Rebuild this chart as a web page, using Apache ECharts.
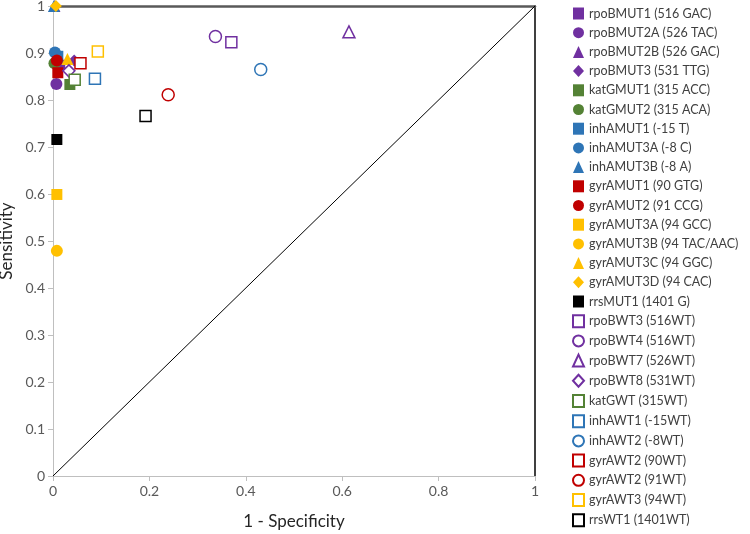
<!DOCTYPE html>
<html>
<head>
<meta charset="utf-8">
<script src="https://cdn.jsdelivr.net/npm/echarts@6/dist/echarts.min.js"></script>
<style>
  html, body { margin: 0; padding: 0; background: #fff; }
  #roc { width: 750px; height: 534px; }
</style>
</head>
<body>
<div id="roc"></div>
<script>
/*---------- data: one point per assay (x = 1 - specificity, y = sensitivity) ----------*/
var labels = [
    'rpoBMUT1 (516 GAC)', 'rpoBMUT2A (526 TAC)', 'rpoBMUT2B (526 GAC)', 'rpoBMUT3 (531 TTG)',
    'katGMUT1 (315 ACC)', 'katGMUT2 (315 ACA)',
    'inhAMUT1 (-15 T)', 'inhAMUT3A (-8 C)', 'inhAMUT3B (-8 A)',
    'gyrAMUT1 (90 GTG)', 'gyrAMUT2 (91 CCG)', 'gyrAMUT3A (94 GCC)', 'gyrAMUT3B (94 TAC/AAC)',
    'gyrAMUT3C (94 GGC)', 'gyrAMUT3D (94 CAC)',
    'rrsMUT1 (1401 G)',
    'rpoBWT3 (516WT)', 'rpoBWT4 (516WT)', 'rpoBWT7 (526WT)', 'rpoBWT8 (531WT)',
    'katGWT (315WT)', 'inhAWT1 (-15WT)', 'inhAWT2 (-8WT)',
    'gyrAWT2 (90WT)', 'gyrAWT2 (91WT)', 'gyrAWT3 (94WT)', 'rrsWT1 (1401WT)'
];
var oneMinusSpec = [
    0.014, 0.007, 0.003, 0.044,
    0.035, 0.003,
    0.010, 0.004, 0.002,
    0.010, 0.008, 0.008, 0.008,
    0.030, 0.006,
    0.008,
    0.370, 0.337, 0.614, 0.033,
    0.045, 0.087, 0.431,
    0.057, 0.239, 0.093, 0.192
];
var sensitivity = [
    0.874, 0.834, 1.000, 0.884,
    0.833, 0.878,
    0.893, 0.901, 1.000,
    0.858, 0.884, 0.599, 0.479,
    0.887, 1.000,
    0.716,
    0.923, 0.935, 0.945, 0.862,
    0.843, 0.845, 0.865,
    0.878, 0.811, 0.903, 0.766
];
var chanceLine = [[0, 0], [1, 1]];

/*---------- marker styles (colour, shape, filled) ----------*/
var PURPLE = '#7030A0', GREEN = '#548235', BLUE = '#2E75B6',
    RED = '#C00000', GOLD = '#FFC000', BLACK = '#000000';
var styles = [
    [PURPLE, 'rect', true], [PURPLE, 'circle', true], [PURPLE, 'triangle', true], [PURPLE, 'diamond', true],
    [GREEN, 'rect', true], [GREEN, 'circle', true],
    [BLUE, 'rect', true], [BLUE, 'circle', true], [BLUE, 'triangle', true],
    [RED, 'rect', true], [RED, 'circle', true], [GOLD, 'rect', true], [GOLD, 'circle', true],
    [GOLD, 'triangle', true], [GOLD, 'diamond', true],
    [BLACK, 'rect', true],
    [PURPLE, 'rect', false], [PURPLE, 'circle', false], [PURPLE, 'triangle', false], [PURPLE, 'diamond', false],
    [GREEN, 'rect', false], [BLUE, 'rect', false], [BLUE, 'circle', false],
    [RED, 'rect', false], [RED, 'circle', false], [GOLD, 'rect', false], [BLACK, 'rect', false]
];
var symSize = { rect: 11, circle: 12, triangle: 12, diamond: 12 };

var FONT = 'Lato, "Open Sans", sans-serif';

var series = [{
    name: 'chance',
    type: 'line',
    data: chanceLine,
    symbol: 'none',
    silent: true,
    lineStyle: { color: '#000', width: 1 },
    z: 1
}];

labels.forEach(function (name, i) {
    var st = styles[i];
    series.push({
        name: name,
        type: 'scatter',
        symbol: st[1],
        symbolSize: symSize[st[1]],
        data: [[oneMinusSpec[i], sensitivity[i]]],
        itemStyle: st[2]
            ? { color: st[0], borderWidth: 0, opacity: 1 }
            : { color: '#ffffff', borderColor: st[0], borderWidth: 1.5, opacity: 1 },
        z: 2 + i
    });
});

var rocChart = echarts.init(document.getElementById('roc'));
var option = {
    animation: false,
    textStyle: { fontFamily: FONT },
    grid: { left: 53, right: 215, top: 6, bottom: 58, containLabel: false, outerBoundsMode: 'none' },
    legend: {
        data: labels,
        orient: 'vertical',
        left: 572,
        top: 7,
        padding: 0,
        itemWidth: 11,
        itemHeight: 12,
        itemGap: 6.2,
        textStyle: { fontSize: 12.5, color: '#404040', fontFamily: FONT },
        selectedMode: false
    },
    xAxis: [{
        type: 'value',
        min: 0, max: 1, interval: 0.2,
        name: '1 - Specificity',
        nameLocation: 'middle',
        nameGap: 37,
        nameTextStyle: { fontSize: 17, color: '#262626' },
        axisLine: { onZero: false, lineStyle: { color: '#BFBFBF', width: 1 } },
        axisTick: { show: true, length: 5, lineStyle: { color: '#BFBFBF' } },
        axisLabel: { fontSize: 14, color: '#595959', margin: 8 },
        splitLine: { show: false }
    }, {
        type: 'value',
        position: 'top',
        min: 0, max: 1,
        axisLine: { show: true, onZero: false, lineStyle: { color: '#595959', width: 2.5 } },
        axisTick: { show: false },
        axisLabel: { show: false },
        splitLine: { show: false }
    }],
    yAxis: [{
        type: 'value',
        min: 0, max: 1, interval: 0.1,
        name: 'Sensitivity',
        nameLocation: 'middle',
        nameGap: 34,
        nameTextStyle: { fontSize: 17, color: '#262626' },
        axisLine: { show: true, onZero: false, lineStyle: { color: '#BFBFBF', width: 1 } },
        axisTick: { show: true, length: 5, lineStyle: { color: '#BFBFBF' } },
        axisLabel: { fontSize: 14, color: '#595959', margin: 8 },
        splitLine: { show: false }
    }, {
        type: 'value',
        position: 'right',
        min: 0, max: 1,
        axisLine: { show: true, onZero: false, lineStyle: { color: '#000', width: 1.5 } },
        axisTick: { show: false },
        axisLabel: { show: false },
        splitLine: { show: false }
    }],
    series: series
};
rocChart.setOption(option, true);
</script>
</body>
</html>
